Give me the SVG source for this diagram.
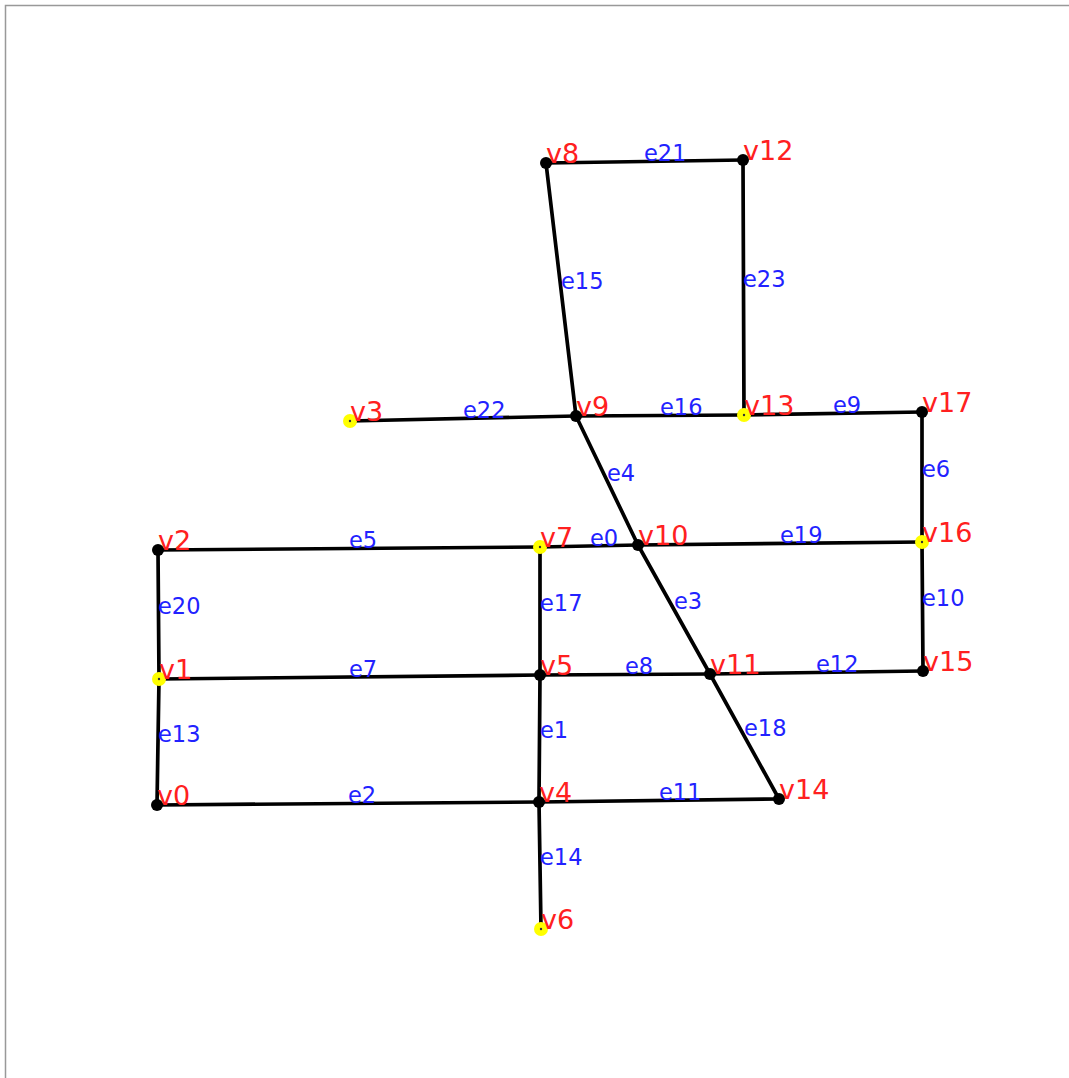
<svg xmlns="http://www.w3.org/2000/svg" width="1069" height="1078" viewBox="0 0 1069 1078">
<style>
.e{stroke:#000;stroke-width:3.7;stroke-linecap:round;fill:none}
.n{fill:#000}
.y{fill:#ffff00}
.c{fill:#333}
.vl{font-family:"DejaVu Sans",sans-serif;font-size:27px;fill:#ff2020}
.el{font-family:"DejaVu Sans",sans-serif;font-size:22.5px;fill:#2222ff}
</style>
<rect x="0" y="0" width="1069" height="1078" fill="#fff"/>
<rect x="5.5" y="5.5" width="1100" height="1100" fill="none" stroke="#999" stroke-width="1.5"/>
<g id="connectors">
<line id="e0" class="e" x1="540" y1="547" x2="638" y2="545"/>
<line id="e1" class="e" x1="540" y1="675" x2="539" y2="802"/>
<line id="e2" class="e" x1="157" y1="805" x2="539" y2="802"/>
<line id="e3" class="e" x1="638" y1="545" x2="710" y2="674"/>
<line id="e4" class="e" x1="576" y1="416" x2="638" y2="545"/>
<line id="e5" class="e" x1="158" y1="550" x2="540" y2="547"/>
<line id="e6" class="e" x1="922" y1="412" x2="922" y2="542"/>
<line id="e7" class="e" x1="159" y1="679" x2="540" y2="675"/>
<line id="e8" class="e" x1="540" y1="675" x2="710" y2="674"/>
<line id="e9" class="e" x1="744" y1="415" x2="922" y2="412"/>
<line id="e10" class="e" x1="922" y1="542" x2="923" y2="671"/>
<line id="e11" class="e" x1="539" y1="802" x2="779" y2="799"/>
<line id="e12" class="e" x1="710" y1="674" x2="923" y2="671"/>
<line id="e13" class="e" x1="159" y1="679" x2="157" y2="805"/>
<line id="e14" class="e" x1="539" y1="802" x2="541" y2="929"/>
<line id="e15" class="e" x1="546" y1="163" x2="576" y2="416"/>
<line id="e16" class="e" x1="576" y1="416" x2="744" y2="415"/>
<line id="e17" class="e" x1="540" y1="547" x2="540" y2="675"/>
<line id="e18" class="e" x1="710" y1="674" x2="779" y2="799"/>
<line id="e19" class="e" x1="638" y1="545" x2="922" y2="542"/>
<line id="e20" class="e" x1="158" y1="550" x2="159" y2="679"/>
<line id="e21" class="e" x1="546" y1="163" x2="743" y2="160"/>
<line id="e22" class="e" x1="350" y1="421" x2="576" y2="416"/>
<line id="e23" class="e" x1="743" y1="160" x2="744" y2="415"/>
</g>
<g id="edge-labels">
<text class="el" x="590" y="546">e0</text>
<text class="el" x="540" y="738">e1</text>
<text class="el" x="348" y="803">e2</text>
<text class="el" x="674" y="609">e3</text>
<text class="el" x="607" y="481">e4</text>
<text class="el" x="349" y="548">e5</text>
<text class="el" x="922" y="477">e6</text>
<text class="el" x="349" y="677">e7</text>
<text class="el" x="625" y="674">e8</text>
<text class="el" x="833" y="413">e9</text>
<text class="el" x="922" y="606">e10</text>
<text class="el" x="659" y="800">e11</text>
<text class="el" x="816" y="672">e12</text>
<text class="el" x="158" y="742">e13</text>
<text class="el" x="540" y="865">e14</text>
<text class="el" x="561" y="289">e15</text>
<text class="el" x="660" y="415">e16</text>
<text class="el" x="540" y="611">e17</text>
<text class="el" x="744" y="736">e18</text>
<text class="el" x="780" y="543">e19</text>
<text class="el" x="158" y="614">e20</text>
<text class="el" x="644" y="161">e21</text>
<text class="el" x="463" y="418">e22</text>
<text class="el" x="743" y="287">e23</text>
</g>
<g id="v0"><circle class="n" cx="157" cy="805" r="6"/><text class="vl" x="157" y="805">v0</text></g>
<g id="v1"><circle class="y" cx="159" cy="679" r="7"/><circle class="c" cx="159" cy="679" r="1.2"/><text class="vl" x="159" y="679">v1</text></g>
<g id="v2"><circle class="n" cx="158" cy="550" r="6"/><text class="vl" x="158" y="550">v2</text></g>
<g id="v3"><circle class="y" cx="350" cy="421" r="7"/><circle class="c" cx="350" cy="421" r="1.2"/><text class="vl" x="350" y="421">v3</text></g>
<g id="v4"><circle class="n" cx="539" cy="802" r="6"/><text class="vl" x="539" y="802">v4</text></g>
<g id="v5"><circle class="n" cx="540" cy="675" r="6"/><text class="vl" x="540" y="675">v5</text></g>
<g id="v6"><circle class="y" cx="541" cy="929" r="7"/><circle class="c" cx="541" cy="929" r="1.2"/><text class="vl" x="541" y="929">v6</text></g>
<g id="v7"><circle class="y" cx="540" cy="547" r="7"/><circle class="c" cx="540" cy="547" r="1.2"/><text class="vl" x="540" y="547">v7</text></g>
<g id="v8"><circle class="n" cx="546" cy="163" r="6"/><text class="vl" x="546" y="163">v8</text></g>
<g id="v9"><circle class="n" cx="576" cy="416" r="6"/><text class="vl" x="576" y="416">v9</text></g>
<g id="v10"><circle class="n" cx="638" cy="545" r="6"/><text class="vl" x="638" y="545">v10</text></g>
<g id="v11"><circle class="n" cx="710" cy="674" r="6"/><text class="vl" x="710" y="674">v11</text></g>
<g id="v12"><circle class="n" cx="743" cy="160" r="6"/><text class="vl" x="743" y="160">v12</text></g>
<g id="v13"><circle class="y" cx="744" cy="415" r="7"/><circle class="c" cx="744" cy="415" r="1.2"/><text class="vl" x="744" y="415">v13</text></g>
<g id="v14"><circle class="n" cx="779" cy="799" r="6"/><text class="vl" x="779" y="799">v14</text></g>
<g id="v15"><circle class="n" cx="923" cy="671" r="6"/><text class="vl" x="923" y="671">v15</text></g>
<g id="v16"><circle class="y" cx="922" cy="542" r="7"/><circle class="c" cx="922" cy="542" r="1.2"/><text class="vl" x="922" y="542">v16</text></g>
<g id="v17"><circle class="n" cx="922" cy="412" r="6"/><text class="vl" x="922" y="412">v17</text></g>
</svg>
